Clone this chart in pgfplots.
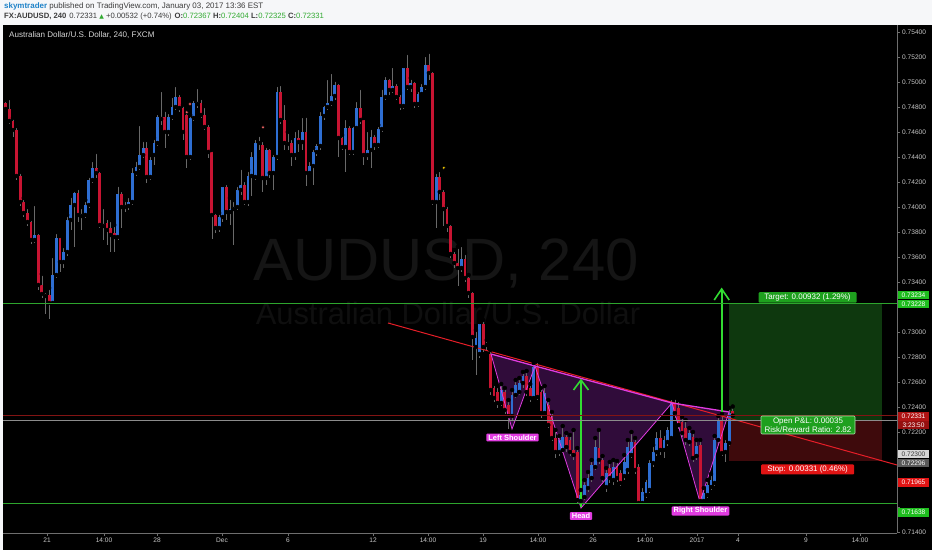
\documentclass[border=0pt]{standalone}
\usepackage{pgfplots}
\pgfplotsset{compat=1.18}
\usepackage{pgfplotstable}
\usepackage{fontspec}
\setmainfont{Liberation Sans}
\newfontfamily\dejavu{DejaVu Sans}
\definecolor{upblue}{RGB}{46,110,210}
\definecolor{dnred}{RGB}{200,20,50}
\definecolor{wickgray}{RGB}{105,105,105}
\definecolor{hdrbg}{RGB}{246,247,249}
\definecolor{hdrtext}{RGB}{60,60,60}
\definecolor{userblue}{RGB}{30,130,200}
\definecolor{upgreen}{RGB}{50,170,50}
\definecolor{axisgray}{RGB}{110,110,110}
\definecolor{ticktext}{RGB}{200,200,200}
\definecolor{wmgray}{RGB}{21,21,21}
\definecolor{wmgray2}{RGB}{15,15,15}
\definecolor{lgreen}{RGB}{45,165,45}
\definecolor{curred}{RGB}{130,20,20}
\definecolor{entrygray}{RGB}{140,140,140}
\definecolor{trendred}{RGB}{230,30,40}
\definecolor{magenta2}{RGB}{225,60,225}
\definecolor{patfill}{RGB}{48,12,58}
\definecolor{arrowgreen}{RGB}{50,220,50}
\definecolor{zonegreen}{RGB}{14,56,14}
\definecolor{zonered}{RGB}{62,10,12}
\definecolor{boxgreen}{RGB}{30,160,30}
\definecolor{boxred}{RGB}{225,20,20}
\definecolor{axgreen}{RGB}{30,190,30}
\definecolor{axred}{RGB}{175,20,20}

\pgfplotsset{chartaxis/.style={
  scale only axis,
  width=894bp, height=508bp,
  xmin=0.2535, xmax=247.42, ymin=0.71392, ymax=0.75456,
  axis x line*=bottom, axis y line*=right,
  axis line style={draw=axisgray, line width=0.6bp},
  tick style={draw=axisgray, line width=0.5bp},
  major tick length=3bp, tick align=outside,
  xtick={12.42,28.18,42.83,60.80,79.05,102.55,117.75,132.96,148.17,163.38,177.75,192.13,203.47,222.27,237.2},
  xticklabels={21,14:00,28,Dec,6,12,14:00,19,14:00,26,14:00,2017,4,9,14:00},
  ytick={0.714,0.716,0.718,0.720,0.722,0.724,0.726,0.728,0.730,0.732,0.734,0.736,0.738,0.740,0.742,0.744,0.746,0.748,0.750,0.752,0.754},
  yticklabels={0.71400,,,,0.72200,0.72400,0.72600,0.72800,0.73000,,0.73400,0.73600,0.73800,0.74000,0.74200,0.74400,0.74600,0.74800,0.75000,0.75200,0.75400},
  /pgf/number format/assume math mode=true,
  y tick label style={font=\fontsize{6.6}{7}\selectfont, text=ticktext, inner sep=2bp},
  x tick label style={font=\fontsize{6.6}{7}\selectfont, text=ticktext, inner sep=2bp},
}}

\pgfplotstableread{
i o h l c
1 0.74832 0.74856 0.74768 0.74784
2 0.74784 0.74872 0.74664 0.74688
3 0.74688 0.74712 0.74560 0.74616
4 0.74616 0.74648 0.74216 0.74248
5 0.74248 0.74280 0.74008 0.74040
6 0.74040 0.74072 0.73920 0.73952
7 0.73952 0.74000 0.73848 0.73880
8 0.73880 0.73904 0.73704 0.73736
9 0.73736 0.74024 0.73712 0.73776
10 0.73776 0.73800 0.73336 0.73376
11 0.73376 0.73464 0.73272 0.73304
12 0.73304 0.73328 0.73144 0.73288
13 0.73296 0.73352 0.73104 0.73232
14 0.73232 0.73608 0.73216 0.73456
15 0.73456 0.73800 0.73432 0.73752
16 0.73752 0.73768 0.73480 0.73560
17 0.73560 0.73688 0.73512 0.73640
18 0.73640 0.73936 0.73608 0.73896
19 0.73896 0.74088 0.73816 0.74016
20 0.74016 0.74136 0.73680 0.74112
21 0.74112 0.74152 0.73880 0.73936
22 0.73928 0.74000 0.73816 0.73944
23 0.73936 0.74056 0.73912 0.74016
24 0.74016 0.74248 0.73992 0.74216
25 0.74216 0.74376 0.74192 0.74312
26 0.74312 0.74440 0.74232 0.74272
27 0.74272 0.74296 0.73832 0.73856
28 0.73864 0.74000 0.73736 0.73848
29 0.73872 0.73912 0.73696 0.73816
30 0.73832 0.73896 0.73640 0.73776
31 0.73792 0.73856 0.73640 0.73760
32 0.73760 0.74176 0.73736 0.74104
33 0.74104 0.74136 0.73832 0.74000
34 0.74000 0.74056 0.73960 0.74016
35 0.74008 0.74088 0.73976 0.74040
36 0.74040 0.74328 0.74016 0.74272
37 0.74272 0.74376 0.74248 0.74320
38 0.74320 0.74664 0.74296 0.74416
39 0.74416 0.74536 0.74392 0.74472
40 0.74472 0.74536 0.74192 0.74240
41 0.74240 0.74416 0.74216 0.74376
42 0.74416 0.74552 0.74336 0.74512
43 0.74512 0.74752 0.74488 0.74720
44 0.74720 0.74936 0.74656 0.74704
45 0.74720 0.74776 0.74472 0.74600
46 0.74600 0.74760 0.74568 0.74720
47 0.74720 0.74888 0.74696 0.74800
48 0.74800 0.74976 0.74776 0.74880
49 0.74880 0.74912 0.74760 0.74792
50 0.74792 0.74816 0.74536 0.74600
51 0.74736 0.74760 0.74312 0.74400
52 0.74400 0.74736 0.74376 0.74712
53 0.74712 0.74864 0.74688 0.74832
54 0.74824 0.74960 0.74792 0.74840
55 0.74832 0.74872 0.74712 0.74736
56 0.74736 0.74808 0.74616 0.74640
57 0.74640 0.74672 0.74392 0.74440
58 0.74440 0.74456 0.73744 0.73936
59 0.73936 0.73960 0.73792 0.73832
60 0.73832 0.73952 0.73800 0.73920
61 0.73920 0.74176 0.73880 0.74160
62 0.74160 0.74192 0.73896 0.73960
63 0.73960 0.74072 0.73856 0.73984
64 0.73984 0.74056 0.73696 0.74000
65 0.74000 0.74176 0.73976 0.74136
66 0.74136 0.74312 0.74096 0.74176
67 0.74176 0.74216 0.74016 0.74040
68 0.74040 0.74296 0.74008 0.74248
69 0.74248 0.74456 0.74088 0.74400
70 0.74240 0.74552 0.74216 0.74512
71 0.74512 0.74576 0.74456 0.74520
72 0.74496 0.74536 0.74120 0.74232
73 0.74232 0.74488 0.74176 0.74456
74 0.74456 0.74480 0.74232 0.74272
75 0.74272 0.74432 0.74136 0.74400
76 0.74400 0.74976 0.74376 0.74920
77 0.74920 0.74984 0.74664 0.74696
78 0.74696 0.74832 0.74456 0.74512
79 0.74520 0.74600 0.74456 0.74504
80 0.74512 0.74552 0.74328 0.74416
81 0.74416 0.74616 0.74376 0.74552
82 0.74552 0.74632 0.74440 0.74520
83 0.74520 0.74728 0.74456 0.74600
84 0.74600 0.74728 0.74168 0.74272
85 0.74272 0.74376 0.74256 0.74328
86 0.74328 0.74472 0.74176 0.74440
87 0.74440 0.74520 0.74408 0.74488
88 0.74488 0.74776 0.74456 0.74728
89 0.74728 0.74824 0.74696 0.74800
90 0.74800 0.75032 0.74776 0.74832
91 0.74832 0.75080 0.74808 0.74888
92 0.74888 0.75016 0.74856 0.74976
93 0.74976 0.75000 0.74400 0.74552
94 0.74552 0.74576 0.74456 0.74480
95 0.74480 0.74712 0.74280 0.74632
96 0.74632 0.74664 0.74416 0.74440
97 0.74440 0.74656 0.74416 0.74632
98 0.74632 0.74856 0.74616 0.74792
99 0.74792 0.74952 0.74664 0.74696
100 0.74696 0.74712 0.74336 0.74416
101 0.74416 0.74616 0.74376 0.74456
102 0.74456 0.74632 0.74312 0.74560
103 0.74560 0.74592 0.74456 0.74496
104 0.74496 0.74656 0.74472 0.74624
105 0.74624 0.74952 0.74600 0.74880
106 0.74880 0.75056 0.74856 0.75016
107 0.75016 0.75040 0.74896 0.74936
108 0.74936 0.75128 0.74912 0.74968
109 0.74968 0.75000 0.74856 0.74880
110 0.74880 0.74912 0.74776 0.74808
111 0.74808 0.75128 0.74784 0.75112
112 0.75112 0.75232 0.74936 0.74960
113 0.74960 0.75032 0.74920 0.74992
114 0.74992 0.75016 0.74792 0.74824
115 0.74824 0.74936 0.74800 0.74904
116 0.74904 0.75000 0.74888 0.74960
117 0.74960 0.75216 0.74936 0.75136
118 0.75136 0.75240 0.75016 0.75072
119 0.75072 0.75096 0.74016 0.74040
120 0.74040 0.74280 0.73832 0.74240
121 0.74240 0.74296 0.74056 0.74120
122 0.74120 0.74152 0.73848 0.73984
123 0.73984 0.74016 0.73800 0.73848
124 0.73848 0.73872 0.73592 0.73624
125 0.73624 0.73656 0.73512 0.73552
126 0.73552 0.73680 0.73368 0.73512
127 0.73512 0.73696 0.73480 0.73584
128 0.73584 0.73632 0.73400 0.73432
129 0.73432 0.73456 0.73272 0.73312
130 0.73312 0.73336 0.72776 0.72960
131 0.72880 0.73016 0.72656 0.72952
132 0.72824 0.73080 0.72792 0.73064
133 0.73064 0.73096 0.72840 0.72880
134 0.72896 0.72936 0.72856 0.72904
135 0.72824 0.72856 0.72496 0.72536
136 0.72552 0.72584 0.72440 0.72472
137 0.72520 0.72568 0.72392 0.72432
138 0.72432 0.72584 0.72408 0.72536
139 0.72520 0.72552 0.72344 0.72376
140 0.72416 0.72456 0.72224 0.72328
141 0.72328 0.72536 0.72296 0.72496
142 0.72496 0.72616 0.72472 0.72576
143 0.72520 0.72632 0.72496 0.72592
144 0.72592 0.72680 0.72552 0.72648
145 0.72648 0.72688 0.72488 0.72520
146 0.72552 0.72584 0.72440 0.72472
147 0.72472 0.72752 0.72456 0.72720
148 0.72720 0.72768 0.72456 0.72480
149 0.72520 0.72552 0.72312 0.72352
150 0.72352 0.72568 0.72328 0.72512
151 0.72416 0.72456 0.72232 0.72256
152 0.72320 0.72360 0.72128 0.72152
153 0.72152 0.72216 0.71992 0.72040
154 0.72040 0.72168 0.72008 0.72136
155 0.72056 0.72248 0.72032 0.72160
156 0.72160 0.72192 0.72040 0.72080
157 0.72136 0.72176 0.72008 0.72040
158 0.72056 0.72216 0.71976 0.72016
159 0.72040 0.72072 0.71632 0.71656
160 0.71648 0.71736 0.71592 0.71696
161 0.71680 0.71816 0.71656 0.71776
162 0.71752 0.71880 0.71720 0.71832
163 0.71832 0.71976 0.71800 0.71936
164 0.71920 0.72152 0.71896 0.72080
165 0.72072 0.72216 0.71944 0.71976
166 0.71976 0.72008 0.71800 0.71832
167 0.71760 0.71912 0.71720 0.71872
168 0.71912 0.71960 0.71792 0.71832
169 0.71816 0.71976 0.71776 0.71920
170 0.71920 0.71968 0.71800 0.71832
171 0.71872 0.71912 0.71768 0.71792
172 0.71848 0.72016 0.71816 0.71960
173 0.71896 0.72136 0.71864 0.72080
174 0.72016 0.72200 0.71992 0.72120
175 0.72120 0.72152 0.71864 0.71896
176 0.71920 0.71960 0.71624 0.71632
177 0.71632 0.71768 0.71616 0.71720
178 0.71696 0.71832 0.71672 0.71800
179 0.71736 0.71992 0.71712 0.71952
180 0.71952 0.72096 0.71920 0.72040
181 0.72040 0.72216 0.72008 0.72152
182 0.72152 0.72232 0.72016 0.72056
183 0.72056 0.72184 0.71992 0.72136
184 0.72120 0.72256 0.72088 0.72216
185 0.72152 0.72472 0.72136 0.72432
186 0.72432 0.72472 0.72312 0.72352
187 0.72392 0.72456 0.72224 0.72256
188 0.72280 0.72320 0.72160 0.72192
189 0.72232 0.72296 0.72096 0.72136
190 0.72120 0.72232 0.72088 0.72192
191 0.72160 0.72200 0.71960 0.71992
192 0.72008 0.72136 0.71976 0.72088
193 0.72096 0.72136 0.71632 0.71648
194 0.71648 0.71752 0.71632 0.71712
195 0.71696 0.71816 0.71672 0.71776
196 0.71760 0.71864 0.71736 0.71816
197 0.71792 0.72168 0.71768 0.72136
198 0.72136 0.72328 0.72104 0.72296
199 0.72296 0.72344 0.72008 0.72032
200 0.72040 0.72152 0.71960 0.72112
201 0.72112 0.72392 0.72088 0.72352
202 0.72367 0.72404 0.72325 0.72331
}\candles

\begin{document}
\begin{tikzpicture}[x=1bp,y=1bp]
% phantom axis: only to find the plot corner
\begin{axis}[chartaxis]
\coordinate (O) at (rel axis cs:0,0);
\end{axis}

\begin{scope}[shift={(O)}, xshift=-3bp, yshift=-17bp]
\fill[black] (0,0) rectangle (932,550);
\fill[hdrbg] (0,525) rectangle (932,550);
\fill[hdrbg] (0,0) rectangle (3,525);
\node[text=wmgray, font=\fontsize{60}{60}\selectfont, inner sep=0] at (446,287) {AUDUSD, 240};
\node[text=wmgray2, font=\fontsize{31}{31}\selectfont, inner sep=0] at (448,237) {Australian Dollar/U.S. Dollar};
\end{scope}

\begin{axis}[chartaxis]
% position zones
\addplot[fill=zonegreen, draw=none] coordinates {(201.07,0.72296) (243.19,0.72296) (243.19,0.73228) (201.07,0.73228)} -- cycle;
\addplot[fill=zonered, draw=none] coordinates {(201.07,0.71965) (243.19,0.71965) (243.19,0.72296) (201.07,0.72296)} -- cycle;
% pattern fill
\addplot[fill=patfill, draw=none] coordinates {(135.17,0.72824) (140.98,0.72224) (147.34,0.72728) (160.05,0.71592) (185.21,0.72432) (192.95,0.71640) (200.97,0.72360) (185.21,0.72432) (147.34,0.72728)} -- cycle;
% wicks
\addplot[only marks, mark=none, error bars/.cd, y dir=minus, y explicit, error mark=none,
  error bar style={draw=wickgray, line width=0.6bp}]
  table[x=i, y=h, y error expr=\thisrow{h}-\thisrow{l}] {\candles};
% up bodies
\addplot[only marks, mark=none, restrict expr to domain={\thisrow{c}-\thisrow{o}}{0:1},
  error bars/.cd, y dir=plus, y explicit, error mark=none,
  error bar style={draw=upblue, line width=2.8bp}]
  table[x=i, y=o, y error expr={max(\thisrow{c}-\thisrow{o},0.00004)}] {\candles};
% down bodies
\addplot[only marks, mark=none, restrict expr to domain={\thisrow{o}-\thisrow{c}}{0.000001:1},
  error bars/.cd, y dir=plus, y explicit, error mark=none,
  error bar style={draw=dnred, line width=2.8bp}]
  table[x=i, y=c, y error expr={max(\thisrow{o}-\thisrow{c},0.00004)}] {\candles};
% trend line
\addplot[draw=trendred, line width=1bp] coordinates {(106.7,0.73072) (247.42,0.71936)};
% pattern lines
\addplot[draw=magenta2, line width=0.8bp] coordinates {(135.17,0.72824) (140.98,0.72224) (147.34,0.72728) (160.05,0.71592) (185.21,0.72432) (192.95,0.71640) (200.97,0.72360)};
\addplot[draw=magenta2, line width=1.3bp] coordinates {(135.17,0.72824) (147.34,0.72728) (185.21,0.72432) (200.97,0.72360)};
% arrows
\addplot[draw=arrowgreen, line width=1.6bp] coordinates {(160.05,0.71600) (160.05,0.72616)};
\addplot[draw=arrowgreen, line width=1.6bp] coordinates {(157.98,0.72536) (160.05,0.72616) (162.12,0.72536)};
\addplot[draw=arrowgreen, line width=1.6bp] coordinates {(198.95,0.72328) (198.95,0.73344)};
\addplot[draw=arrowgreen, line width=1.6bp] coordinates {(196.88,0.73256) (198.95,0.73344) (201.02,0.73256)};
% small markers
\addplot[only marks, mark=*, mark size=1.6bp, draw=none, fill={rgb,255:red,240;green,100;blue,100}] coordinates {(51.04,0.74758) (51.95,0.74824) (72.14,0.74638)};
\addplot[only marks, mark=*, mark size=1.7bp, draw=none, fill={rgb,255:red,240;green,200;blue,0}] coordinates {(122.1,0.74314)};
\end{axis}

\begin{scope}[shift={(O)}, xshift=-3bp, yshift=-17bp]
% horizontal level lines (target 0.73228, support 0.71632, last price 0.72331, entry 0.72292)
\draw[lgreen, line width=0.9bp] (3,246.5) -- (897,246.5);
\draw[lgreen, line width=0.9bp] (3,47) -- (897,47);
\draw[curred, line width=0.6bp] (3,134.4) -- (897,134.4);
\draw[entrygray, line width=0.6bp] (3,129.5) -- (897,129.5);
% header
\node[anchor=west, inner sep=0, font=\fontsize{8}{9}\selectfont, text=hdrtext] at (4,543.3) {\textcolor{userblue}{\textbf{skymtrader}} published on TradingView.com, January 03, 2017 13:36 EST};
\node[anchor=west, inner sep=0, font=\fontsize{7.7}{9}\selectfont, text=hdrtext] at (4,533.3) {\textbf{FX:AUDUSD, 240}\hspace{3bp}0.72331 {\dejavu\fontsize{6}{6}\selectfont\textcolor{upgreen}{▲}} +0.00532 (+0.74\%)\hspace{3bp}\textbf{O:}\textcolor{upgreen}{0.72367} \textbf{H:}\textcolor{upgreen}{0.72404} \textbf{L:}\textcolor{upgreen}{0.72325} \textbf{C:}\textcolor{upgreen}{0.72331}};
% chart title
\node[anchor=west, inner sep=0, font=\fontsize{8.1}{9}\selectfont, text={rgb,255:red,215;green,215;blue,215}] at (9,515) {Australian Dollar/U.S. Dollar, 240, FXCM};

% pattern labels
\tikzset{pat/.style={fill=magenta2, text=white, font=\fontsize{7.5}{8}\selectfont\bfseries, inner xsep=2bp, inner ysep=1.2bp, rounded corners=1bp}}
\node[pat] at (512.5,112.5) {Left Shoulder};
\node[pat] at (581,34) {Head};
\node[pat] at (700.5,39) {Right Shoulder};

% position tool labels
\node[fill=boxgreen, text=white, font=\fontsize{8}{9}\selectfont, minimum width=98bp, minimum height=10.5bp, inner sep=0, rounded corners=1bp] at (807.5,252.5) {Target: 0.00932 (1.29\%)};
\node[fill=boxgreen, draw={rgb,255:red,170;green,230;blue,170}, line width=0.6bp, text=white, font=\fontsize{8}{8.6}\selectfont, minimum width=94bp, minimum height=18bp, inner sep=0, rounded corners=1bp, align=center] at (808,125) {Open P\&L: 0.00035\\Risk/Reward Ratio: 2.82};
\node[fill=boxred, text=white, font=\fontsize{8}{9}\selectfont, minimum width=93bp, minimum height=10bp, inner sep=0, rounded corners=1bp] at (807.5,80.5) {Stop: 0.00331 (0.46\%)};

% price axis labels
\tikzset{pbox/.style={minimum width=31bp, minimum height=8.6bp, inner sep=0, font=\fontsize{6.6}{7}\selectfont}}
\node[pbox, fill=axgreen, text=white] at (913.5,255) {0.73234};
\node[pbox, fill=axgreen, text=white] at (913.5,246) {0.73228};
\node[pbox, fill=axred, text=white] at (913.5,133.7) {0.72331};
\node[pbox, fill={rgb,255:red,150;green,15;blue,15}, text=white] at (913.5,125) {3:23:50};
\node[pbox, fill={rgb,255:red,215;green,215;blue,215}, text={rgb,255:red,60;green,60;blue,60}] at (913.5,96) {0.72300};
\node[pbox, fill={rgb,255:red,90;green,90;blue,90}, text=white] at (913.5,86.8) {0.72296};
\node[pbox, fill=boxred, text=white] at (913.5,67.5) {0.71965};
\node[pbox, fill=axgreen, text=white] at (913.5,37.5) {0.71638};

\pgfresetboundingbox
\useasboundingbox (0,0) rectangle (932,550);
\end{scope}
\end{tikzpicture}
\end{document}
